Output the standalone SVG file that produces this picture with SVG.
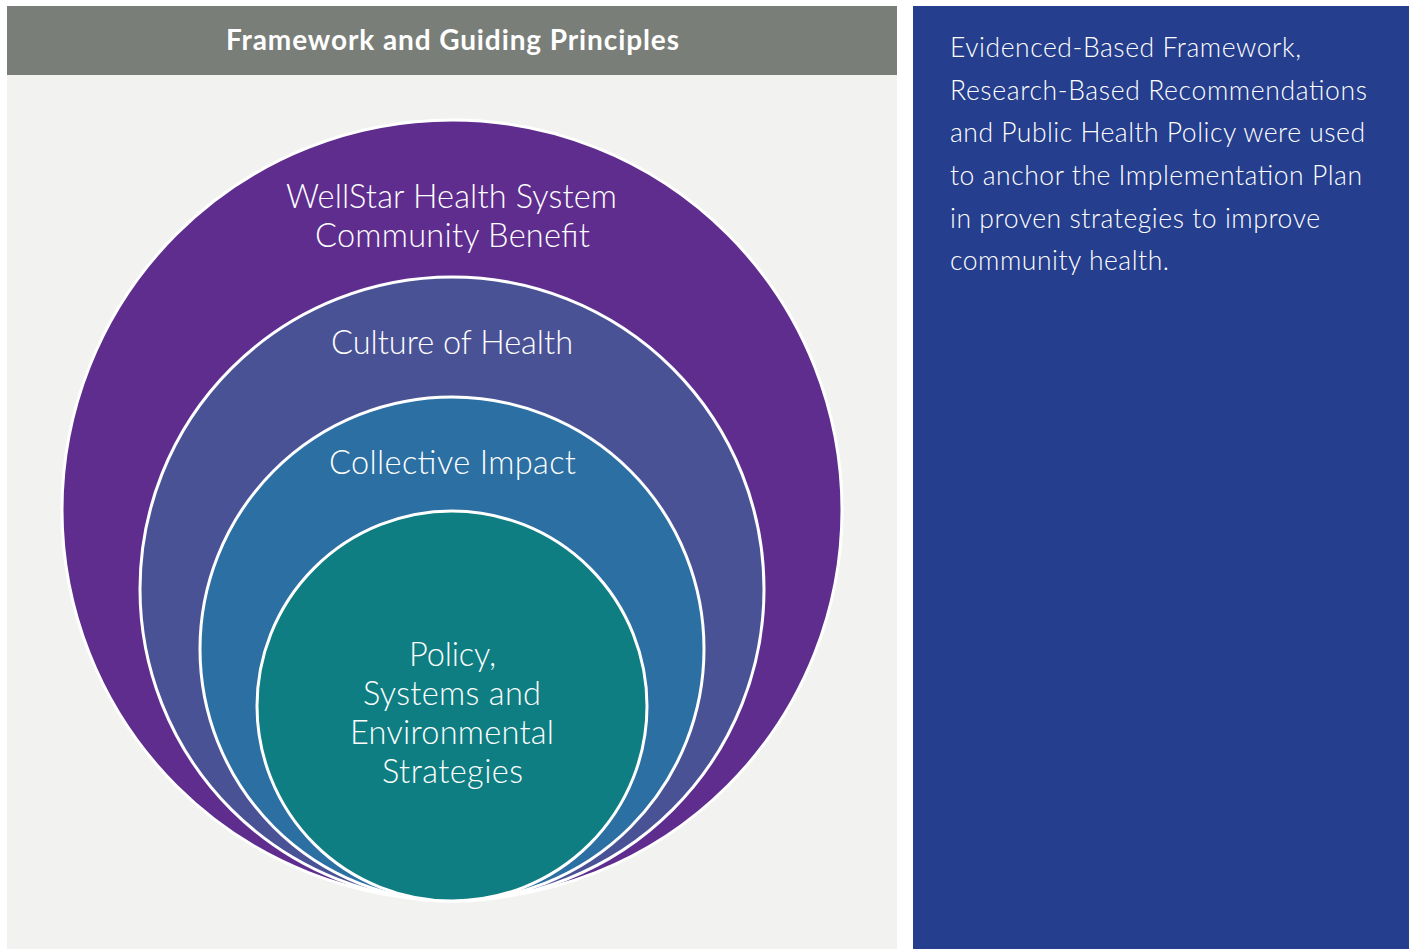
<svg xmlns="http://www.w3.org/2000/svg" width="1411" height="949" viewBox="0 0 1411 949">
<style>
.lbl{font-family:Lato,"Noto Sans","Liberation Sans",sans-serif;font-size:32.5px;fill:#ffffff;text-anchor:middle;font-weight:300}
.side{font-family:Lato,"Noto Sans","Liberation Sans",sans-serif;font-size:26.5px;fill:#ffffff;font-weight:300}
.hdr{font-family:Lato,"Noto Sans","Liberation Sans",sans-serif;font-size:28px;fill:#ffffff;font-weight:700;text-anchor:middle}
.ring{stroke:#ffffff;stroke-width:3}
</style>
<rect x="0" y="0" width="1411" height="949" fill="#ffffff"/>
<g id="left-panel">
<rect x="7" y="75" width="890" height="874" fill="#f2f2f0"/>
<rect x="7" y="6" width="890" height="69" fill="#7a7e78"/>
<text class="hdr" x="452.5" y="50" textLength="453" lengthAdjust="spacing">Framework and Guiding Principles</text>
</g>
<g id="outer">
<circle class="ring" cx="452" cy="510" r="390" fill="#5e2d8e"/>
<text class="lbl" x="451.5" y="208" textLength="331" lengthAdjust="spacing">WellStar Health System</text>
<text class="lbl" x="452.5" y="247" textLength="275" lengthAdjust="spacing">Community Benefit</text>
</g>
<g id="culture">
<circle class="ring" cx="452" cy="589" r="312" fill="#4a5296"/>
<text class="lbl" x="452" y="354" textLength="242" lengthAdjust="spacing">Culture of Health</text>
</g>
<g id="collective">
<circle class="ring" cx="452" cy="649" r="252" fill="#2b6fa3"/>
<text class="lbl" x="452.5" y="474" textLength="247" lengthAdjust="spacing">Collective Impact</text>
</g>
<g id="policy">
<circle class="ring" cx="452" cy="706" r="195" fill="#0e7e82"/>
<text class="lbl" x="452.5" y="666" textLength="87" lengthAdjust="spacing">Policy,</text>
<text class="lbl" x="452" y="705" textLength="178" lengthAdjust="spacing">Systems and</text>
<text class="lbl" x="452" y="744" textLength="204" lengthAdjust="spacing">Environmental</text>
<text class="lbl" x="452.5" y="783" textLength="141" lengthAdjust="spacing">Strategies</text>
</g>
<g id="connectors"></g>
<g id="right-panel">
<rect x="913" y="6" width="496" height="943" fill="#253e8d"/>
<text class="side" x="950" y="57" textLength="351" lengthAdjust="spacing">Evidenced-Based Framework,</text>
<text class="side" x="950" y="100" textLength="417" lengthAdjust="spacing">Research-Based Recommendations</text>
<text class="side" x="950" y="142" textLength="415" lengthAdjust="spacing">and Public Health Policy were used</text>
<text class="side" x="950" y="185" textLength="412" lengthAdjust="spacing">to anchor the Implementation Plan</text>
<text class="side" x="950" y="228" textLength="370" lengthAdjust="spacing">in proven strategies to improve</text>
<text class="side" x="950" y="270" textLength="219" lengthAdjust="spacing">community health.</text>
</g>
</svg>
